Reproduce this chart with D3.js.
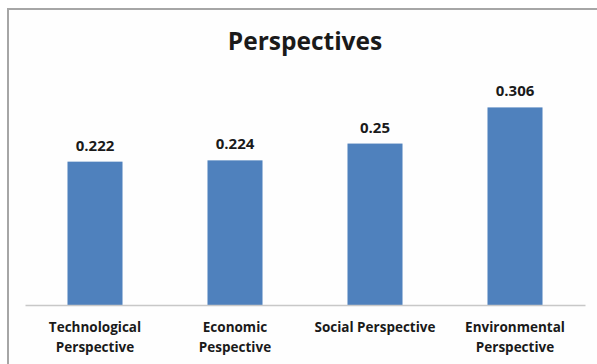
<!DOCTYPE html>
<html>
<head>
<meta charset="utf-8">
<script src="https://cdn.jsdelivr.net/npm/d3@7/dist/d3.min.js"></script>
<style>
  html, body { margin: 0; padding: 0; background: #ffffff; }
  svg { display: block; }
  text { font-family: "Open Sans", "Noto Sans", sans-serif; font-weight: bold; fill: #1a1a1a; }
</style>
</head>
<body>
<svg id="chart" width="597" height="364"></svg>
<script>
// Chart data
const title = "Perspectives";
const categories = ["Technological\nPerspective", "Economic\nPespective", "Social Perspective", "Environmental\nPerspective"];
const values = [0.222, 0.224, 0.25, 0.306];
const valueLabels = ["0.222", "0.224", "0.25", "0.306"];

const W = 597, H = 364;
const svg = d3.select("#chart");

// Chart frame
svg.append("rect")
  .attr("x", 8).attr("y", 9)
  .attr("width", W).attr("height", H)
  .attr("fill", "#fefefe")
  .attr("stroke", "#a6a6a6").attr("stroke-width", 2);

const plot = { left: 25, right: 585, top: 79, bottom: 305 };

const x = d3.scaleBand()
  .domain(categories)
  .range([plot.left, plot.right])
  .paddingInner(0.607)
  .paddingOuter(0.3035);

const y = d3.scaleLinear()
  .domain([0, 0.35])
  .range([plot.bottom, plot.top]);

// Title
svg.append("text")
  .attr("x", 305).attr("y", 50)
  .attr("text-anchor", "middle")
  .attr("font-size", 24.5)
  .text(title);

// Bars
svg.append("g").selectAll("rect")
  .data(values)
  .join("rect")
  .attr("x", (d, i) => x(categories[i]))
  .attr("y", d => y(d))
  .attr("width", x.bandwidth())
  .attr("height", d => y(0) - y(d))
  .attr("fill", "#4f81bd");

// Value labels
svg.append("g").selectAll("text")
  .data(values)
  .join("text")
  .attr("x", (d, i) => x(categories[i]) + x.bandwidth() / 2)
  .attr("y", d => y(d) - 11)
  .attr("text-anchor", "middle")
  .attr("font-size", 15)
  .text((d, i) => valueLabels[i]);

// Category axis
const xAxis = d3.axisBottom(x).tickSize(0).tickPadding(0);
const axisG = svg.append("g")
  .attr("transform", `translate(0,${plot.bottom})`)
  .call(xAxis);
axisG.select(".domain").attr("stroke", "#c8c8c8").attr("stroke-width", 1.5);
axisG.selectAll(".tick text").remove();

// Category labels, one tspan per line
const labelG = svg.append("g");
categories.forEach(c => {
  const cx = x(c) + x.bandwidth() / 2;
  const t = labelG.append("text")
    .attr("x", cx).attr("y", 332)
    .attr("text-anchor", "middle")
    .attr("font-size", 13.5);
  c.split("\n").forEach((line, j) => {
    t.append("tspan").attr("x", cx).attr("dy", j === 0 ? 0 : 20).text(line);
  });
});
</script>
</body>
</html>
